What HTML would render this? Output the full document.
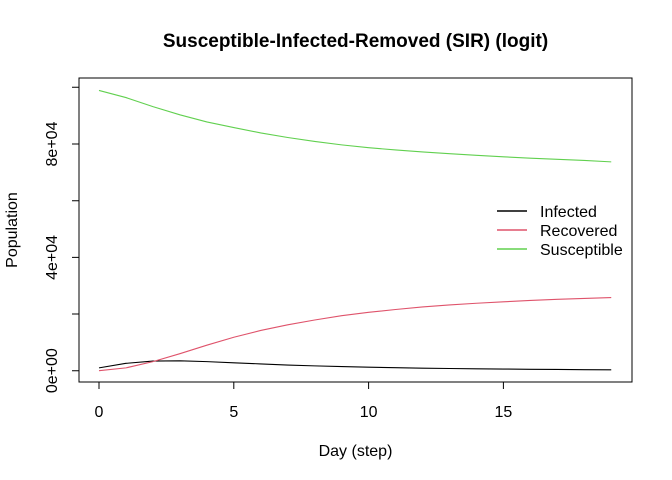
<!DOCTYPE html>
<html><head><style>body{margin:0;background:#fff}svg{display:block;font-family:"Liberation Sans",Arial,sans-serif}</style></head><body>
<svg width="672" height="480" viewBox="0 0 672 480">
<rect width="672" height="480" fill="#fff"/>
<text x="355.5" y="47" text-anchor="middle" font-size="19" font-weight="bold">Susceptible-Infected-Removed (SIR) (logit)</text>
<rect x="79" y="78" width="553" height="304" fill="none" stroke="#000" stroke-width="1"/>
<g stroke="#000" stroke-width="1" fill="none">
<path d="M99 382V389M233.8 382V389M368.6 382V389M503.4 382V389M99 382H503.4"/>
<path d="M79 370.7H72M79 314H72M79 257.4H72M79 200.7H72M79 144H72M79 87.3H72M79 87.3V370.7"/>
</g>
<g font-size="16" text-anchor="middle">
<text x="99" y="417">0</text><text x="233.8" y="417">5</text><text x="368.6" y="417">10</text><text x="503.4" y="417">15</text>
<text transform="translate(57,370.7) rotate(-90)">0e+00</text>
<text transform="translate(57,257.4) rotate(-90)">4e+04</text>
<text transform="translate(57,144) rotate(-90)">8e+04</text>
<text x="355.5" y="456">Day (step)</text>
<text transform="translate(17,230) rotate(-90)">Population</text>
</g>
<g transform="translate(99,370.7) scale(26.96,-0.0028335)" fill="none" stroke-width="1.1">
<polyline vector-effect="non-scaling-stroke" stroke="#000" points="0,1000 1,2600 2,3400 3,3500 4,3200 5,2800 6,2400 7,2000 8,1700 9,1450 10,1250 11,1050 12,900 13,780 14,670 15,580 16,500 17,430 18,370 19,320"/>
<polyline vector-effect="non-scaling-stroke" stroke="#DF536B" points="0,0 1,1000 2,3200 3,6000 4,9000 5,11800 6,14200 7,16200 8,17900 9,19400 10,20600 11,21600 12,22500 13,23200 14,23800 15,24300 16,24800 17,25200 18,25500 19,25800"/>
<polyline vector-effect="non-scaling-stroke" stroke="#61D04F" points="0,98900 1,96400 2,93200 3,90300 4,87800 5,85800 6,83900 7,82300 8,80900 9,79700 10,78700 11,77900 12,77200 13,76600 14,76000 15,75500 16,75000 17,74600 18,74200 19,73700"/>
</g>
<g stroke-width="1.5">
<line x1="497" y1="211" x2="527" y2="211" stroke="#000"/>
<line x1="497" y1="230" x2="527" y2="230" stroke="#DF536B"/>
<line x1="497" y1="249" x2="527" y2="249" stroke="#61D04F"/>
</g>
<g font-size="16">
<text x="540" y="217">Infected</text>
<text x="540" y="236">Recovered</text>
<text x="540" y="255">Susceptible</text>
</g>
</svg>
</body></html>
